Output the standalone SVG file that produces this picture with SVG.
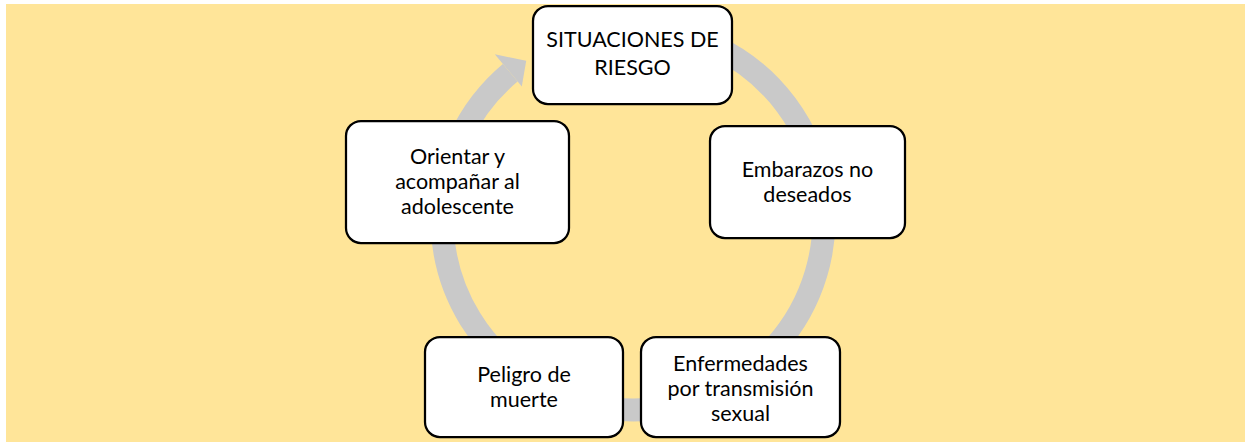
<svg xmlns="http://www.w3.org/2000/svg" width="1245" height="442" viewBox="0 0 1245 442">
  <style>
    .node rect { fill: #FFFFFF; stroke: #000000; stroke-width: 2.25; }
    .node text { font-family: Lato, "Liberation Sans", sans-serif; font-size: 21.5px; fill: #000000; text-anchor: middle; }
    .ring { fill: none; stroke: #C9C9C9; stroke-width: 23; stroke-linecap: butt; }
    .head { fill: #C9C9C9; stroke: none; }
  </style>
  <rect x="6" y="4" width="1239" height="438" fill="#FFE599"/>
  <g id="connectors">
    <path class="ring" d="M 633 28 A 191 191 0 1 1 510.2 72.7"/>
    <polygon class="head" points="494.8,54.3 526.2,60.7 521.8,86.5"/>
  </g>
  <g id="node-situaciones" class="node">
    <rect x="533" y="6" width="199" height="98" rx="15" ry="15"/>
    <text x="632.5" y="47">SITUACIONES DE</text>
    <text x="632.5" y="75">RIESGO</text>
  </g>
  <g id="node-embarazos" class="node">
    <rect x="710" y="126" width="195" height="112" rx="15" ry="15"/>
    <text x="807.5" y="177">Embarazos no</text>
    <text x="807.5" y="202">deseados</text>
  </g>
  <g id="node-enfermedades" class="node">
    <rect x="641" y="337" width="199" height="100" rx="15" ry="15"/>
    <text x="740.5" y="371">Enfermedades</text>
    <text x="740.5" y="396">por transmisión</text>
    <text x="740.5" y="421">sexual</text>
  </g>
  <g id="node-peligro" class="node">
    <rect x="425" y="337" width="198" height="100" rx="15" ry="15"/>
    <text x="524" y="382">Peligro de</text>
    <text x="524" y="407">muerte</text>
  </g>
  <g id="node-orientar" class="node">
    <rect x="346" y="121" width="223" height="122" rx="15" ry="15"/>
    <text x="457.5" y="164">Orientar y</text>
    <text x="457.5" y="189">acompañar al</text>
    <text x="457.5" y="214">adolescente</text>
  </g>
</svg>
